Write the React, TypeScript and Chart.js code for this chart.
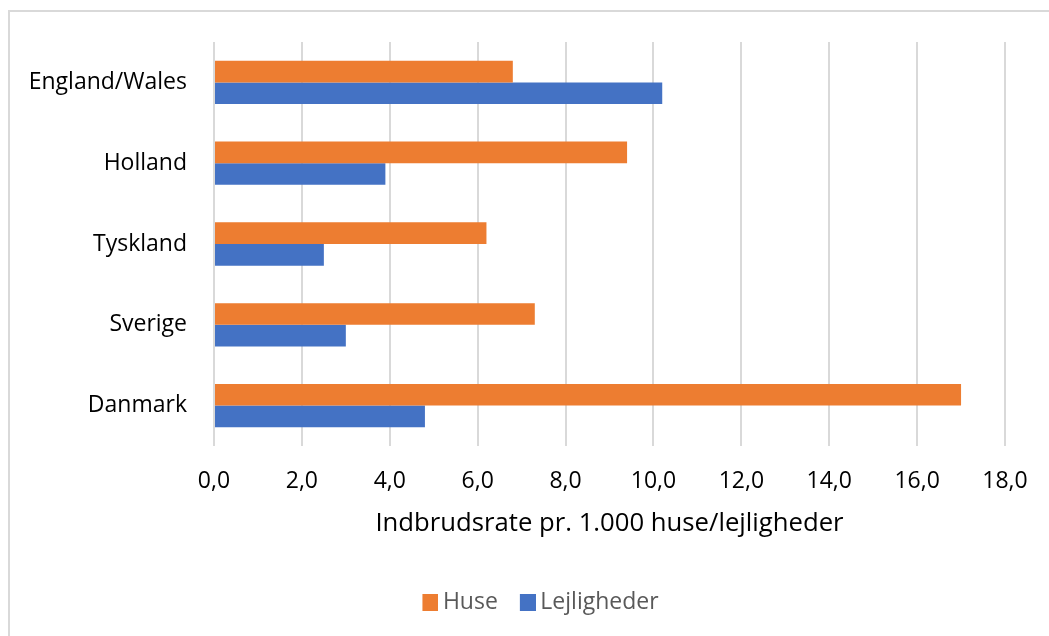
import React, { useEffect, useRef } from "react";
import { Chart, registerables } from "chart.js";

Chart.register(...registerables);

const categories = ["England/Wales", "Holland", "Tyskland", "Sverige", "Danmark"];
const huse = [6.8, 9.4, 6.2, 7.3, 17.0];
const lejligheder = [10.2, 3.9, 2.5, 3.0, 4.8];
const seriesNames = ["Huse", "Lejligheder"];
const seriesColors = ["#ED7D31", "#4472C4"];
const axisTitle = "Indbrudsrate pr. 1.000 huse/lejligheder";
const xMin = 0;
const xMax = 18;
const xStep = 2;

const FONT = "'Open Sans', sans-serif";

function makeSwatch(color: string) {
  const c = document.createElement("canvas");
  c.width = 30;
  c.height = 17;
  const g = c.getContext("2d")!;
  g.fillStyle = color;
  g.fillRect(14, 0, 16, 17);
  return c;
}

export default function App() {
  const ref = useRef<HTMLCanvasElement>(null);

  useEffect(() => {
    if (!ref.current) return;
    const swatches = seriesColors.map(makeSwatch);
    const chart = new Chart(ref.current, {
      type: "bar",
      data: {
        labels: categories,
        datasets: [
          {
            label: seriesNames[0],
            data: huse,
            backgroundColor: seriesColors[0],
            borderWidth: 0,
            categoryPercentage: 0.536,
            barPercentage: 1,
          },
          {
            label: seriesNames[1],
            data: lejligheder,
            backgroundColor: seriesColors[1],
            borderWidth: 0,
            categoryPercentage: 0.536,
            barPercentage: 1,
          },
        ],
      },
      options: {
        indexAxis: "y",
        responsive: false,
        animation: false,
        devicePixelRatio: 1,
        layout: { padding: { left: 60, top: 31, right: 67, bottom: 12.5 } },
        scales: {
          x: {
            min: xMin,
            max: xMax,
            ticks: {
              stepSize: xStep,
              color: "#000",
              font: { family: FONT, size: 23 },
              padding: 21.5,
              callback: (v: any) => Number(v).toFixed(1).replace(".", ","),
            },
            grid: { color: "#d9d9d9", lineWidth: 2, drawTicks: false },
            border: { display: false },
            title: {
              display: true,
              text: axisTitle,
              color: "#000",
              font: { family: FONT, size: 25.7 },
              padding: { top: 0, bottom: 36 },
            },
            afterFit: (s: any) => {
              s.height = 129.5;
            },
          },
          y: {
            grid: { display: false, drawTicks: false },
            border: { display: false },
            ticks: {
              color: "#000",
              font: { family: FONT, size: 23 },
              padding: 27,
            },
            afterFit: (s: any) => {
              s.width = 145;
              s.paddingTop = 0;
              s.paddingBottom = 0;
              // let the category labels extend into the left padding without clipping
              s._computeLabelArea = () => undefined;
            },
          },
        },
        plugins: {
          legend: {
            position: "bottom",
            labels: {
              usePointStyle: true,
              boxWidth: 16,
              boxHeight: 16,
              padding: 15,
              color: "#595959",
              font: { family: FONT, size: 23 },
              generateLabels: (ch: any) => {
                const items = Chart.defaults.plugins.legend.labels.generateLabels(ch);
                items.forEach((it: any, i: number) => {
                  it.pointStyle = swatches[i];
                });
                return items;
              },
            },
          },
          tooltip: { enabled: false },
        },
      },
    } as any);
    return () => chart.destroy();
  }, []);

  return (
    <div style={{ position: "fixed", inset: 0, overflow: "hidden", background: "#fff" }}>
      <div
        style={{
          position: "absolute",
          left: 8,
          top: 10,
          width: 1100,
          height: 700,
          border: "2px solid #d9d9d9",
          boxSizing: "border-box",
        }}
      />
      <canvas
        ref={ref}
        width={1063}
        height={625}
        style={{ position: "absolute", left: 9, top: 11, display: "block" }}
      />
    </div>
  );
}
